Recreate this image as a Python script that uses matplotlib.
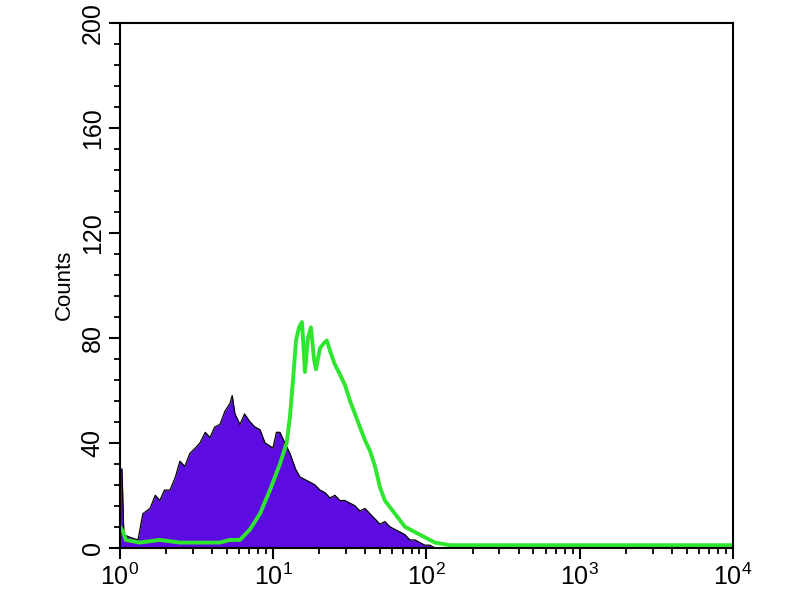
import matplotlib
matplotlib.use("Agg")
import matplotlib.pyplot as plt
from matplotlib.ticker import LogLocator, MultipleLocator, NullFormatter

plt.rcParams['font.family'] = ['Liberation Sans', 'DejaVu Sans']

# control sample (filled purple)
ctrl_x = [1.00, 1.03, 1.06, 1.16, 1.31, 1.41, 1.57, 1.70, 1.82, 1.95, 2.12, 2.30,
          2.46, 2.65, 2.86, 3.10, 3.33, 3.60, 3.87, 4.15, 4.49, 4.84, 5.22, 5.40,
          5.63, 6.07, 6.50, 7.05, 7.60, 8.20, 8.84, 9.96, 10.5, 11.07, 11.9, 12.86,
          14.0, 14.95, 16.1, 17.37, 18.7, 20.19, 21.8, 23.47, 25.3, 27.28, 29.4,
          31.7, 34.2, 36.84, 39.7, 42.8, 46.2, 49.8, 53.6, 57.8, 62.3, 67.2, 72.4,
          78.1, 84.1, 90.7, 97.7, 105.4, 113.5, 122.5]
ctrl_counts = [30, 30, 5, 4, 3, 13, 15, 20, 18, 22, 22, 27,
               33, 31, 36, 38, 40, 44, 42, 46, 47, 52, 55, 58,
               51, 47, 51, 48, 46, 45, 40, 38, 44, 44, 40, 36,
               30, 27, 26, 25, 24, 22, 21, 19, 20, 18, 18,
               17, 16, 14, 15, 13, 11, 9, 10, 8, 7, 6, 5,
               3, 3, 2, 1, 1, 0, 0]

# stained sample (green outline)
stain_x = [1.00, 1.05, 1.09, 1.35, 1.82, 2.46, 3.33, 4.49, 5.22, 6.07, 7.05, 8.20,
           9.53, 11.07, 12.25, 12.86, 13.47, 14.09, 14.74, 15.41, 16.12, 16.87,
           17.64, 18.45, 19.0, 20.19, 21.45, 22.4, 23.8, 25.2, 27.3, 29.4, 31.7,
           34.2, 36.8, 39.7, 42.8, 46.2, 49.8, 53.6, 62.3, 72.4, 84.1, 97.7, 113.5,
           142, 302, 1357, 6100, 10000]
stain_counts = [8, 6, 3, 2, 3, 2, 2, 2, 3, 3, 7, 13,
                22, 32, 40, 50, 64, 79, 84, 86, 67, 80,
                84, 72, 68, 76, 78, 79, 74, 70, 66, 62, 56,
                51, 46, 41, 37, 31, 23, 18, 13, 8, 6, 4, 2,
                1, 1, 1, 1, 1]

fig = plt.figure(figsize=(8, 6), dpi=100)
ax = fig.add_axes([0.15, 0.087, 0.766, 0.875])

ax.fill_between(ctrl_x, ctrl_counts, 0, color='#5c0ce0', linewidth=0)
ax.plot(ctrl_x, ctrl_counts, color='black', linewidth=0.9)
ax.plot(stain_x, stain_counts, color='#2ee62e', linewidth=2.8)

ax.set_xscale('log')
ax.set_xlim(1, 10000)
ax.set_ylim(0, 200)

ax.xaxis.set_major_locator(LogLocator(base=10, numticks=10))
ax.xaxis.set_minor_locator(LogLocator(base=10, subs=range(2, 10), numticks=10))
ax.xaxis.set_minor_formatter(NullFormatter())
ax.yaxis.set_major_locator(MultipleLocator(40))
ax.yaxis.set_minor_locator(MultipleLocator(8))

ax.tick_params(which='major', direction='out', length=8, width=1.5, labelsize=18)
ax.tick_params(which='minor', direction='out', length=4.5, width=1.3)
ax.tick_params(axis='y', which='major', labelrotation=90, pad=3)
for lab in ax.get_yticklabels():
    lab.set_verticalalignment('center')

for spine in ax.spines.values():
    spine.set_linewidth(1.5)

ax.set_ylabel('Counts', fontsize=16, labelpad=4)

fig.savefig('out.png', dpi=100)
